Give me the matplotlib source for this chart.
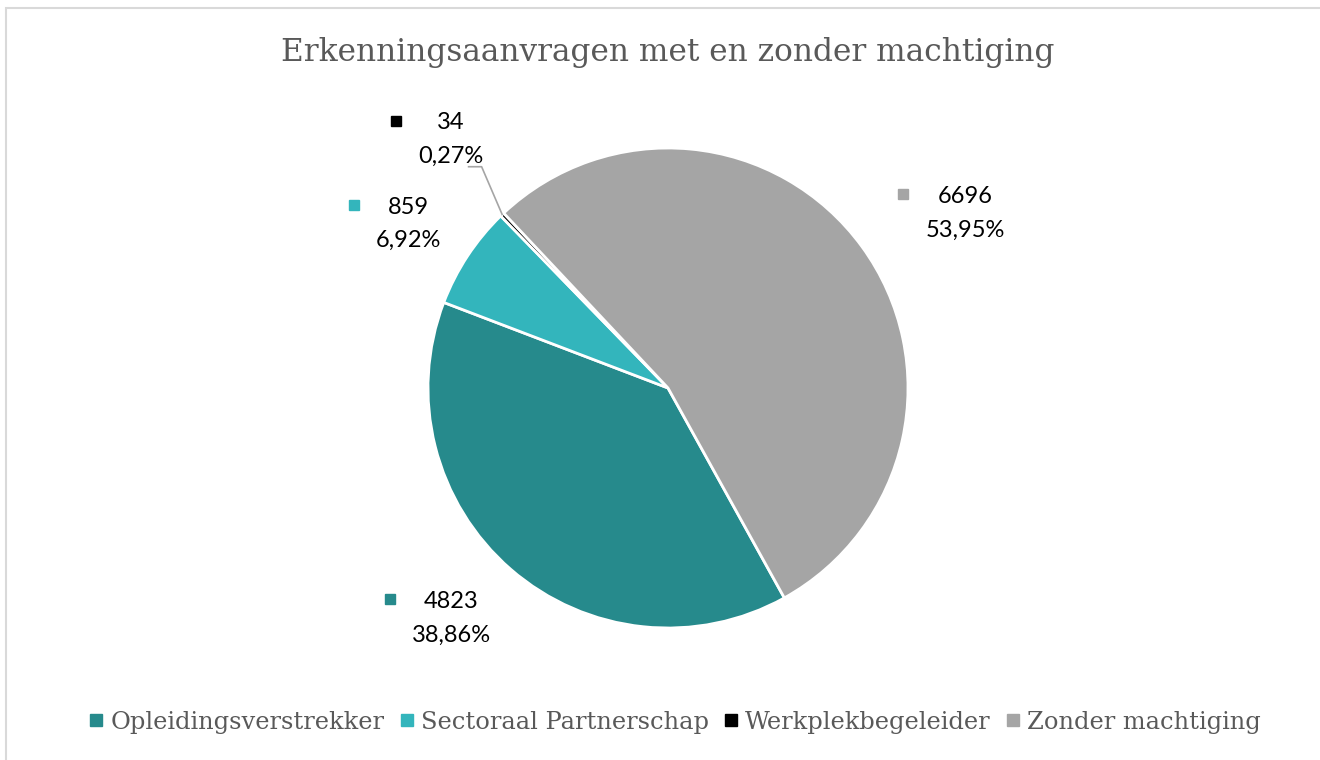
import numpy as np
import matplotlib.pyplot as plt
from matplotlib.patches import Rectangle
from matplotlib.lines import Line2D

# data
categorieen = ['Opleidingsverstrekker', 'Sectoraal Partnerschap', 'Werkplekbegeleider', 'Zonder machtiging']
aantallen = [4823, 859, 34, 6696]
procenten = ['38,86%', '6,92%', '0,27%', '53,95%']
kleuren = ['#268A8C', '#33B5BC', '#000000', '#A5A5A5']

# plaats van de labels: afstand (in straal) en hoekcorrectie (graden) t.o.v. het midden van het stuk
label_afstand = [1.317, 1.278, 1.375, 1.436]
label_hoek_corr = [-2.3, 1.0, -2.5, -5.6]

W, H = 1320, 760
fig = plt.figure(figsize=(W / 100, H / 100), dpi=100)

# grijze rand van de grafiek
fig.add_artist(Rectangle((6 / W, -0.1), 1.2, 1 - 8 / H + 0.1, transform=fig.transFigure,
                         fill=False, edgecolor='#D9D9D9', linewidth=1.5))

# pie: midden (668, 388), straal 240 px
R = 240
S = 700
ax = fig.add_axes([(668 - S / 2) / W, (H - 388 - S / 2) / H, S / W, S / H])

wedges, _ = ax.pie(aantallen, colors=kleuren, startangle=-61, counterclock=False,
                   radius=1, wedgeprops=dict(edgecolor='white', linewidth=2))

lim = S / 2 / R
ax.set_xlim(-lim, lim)
ax.set_ylim(-lim, lim)
ax.set_aspect('equal')
ax.axis('off')

renderer = fig.canvas.get_renderer()
px = 1 / R  # een pixel in data eenheden

for i, w in enumerate(wedges):
    hoek = np.deg2rad((w.theta1 + w.theta2) / 2 + label_hoek_corr[i])
    d = label_afstand[i]
    x, y = d * np.cos(hoek), d * np.sin(hoek)
    t = ax.text(x, y, f'{aantallen[i]}\n{procenten[i]}', ha='center', va='center',
                fontsize=17, family='Lato', color='black', linespacing=1.75)
    breedte = t.get_window_extent(renderer).width * px
    # gekleurd vierkantje links van het label, op de eerste regel
    ax.plot(x - breedte / 2 - 22 * px, y + 19 * px, marker='s', markersize=7.5,
            color=kleuren[i], linestyle='none', clip_on=False)
    if aantallen[i] < 100:
        # verbindingslijn naar het kleine stuk
        x0, y0 = np.cos(hoek - np.deg2rad(label_hoek_corr[i])), np.sin(hoek - np.deg2rad(label_hoek_corr[i]))
        ax.plot([x + 18 * px, x + 31 * px, x0], [y - 27 * px, y - 27 * px, y0], color='#A5A5A5',
                linewidth=1.2, clip_on=False)

fig.text(668 / W, 1 - 53 / H, 'Erkenningsaanvragen met en zonder machtiging', ha='center', va='center',
         fontsize=22.5, family='DejaVu Serif', color='#595959')

handles = [Line2D([], [], marker='s', linestyle='none', markersize=8, color=k) for k in kleuren]
fig.legend(handles, categorieen, loc='center', bbox_to_anchor=(675 / W, 1 - 722 / H), ncol=4, frameon=False,
           handlelength=0.6, handletextpad=0.3, columnspacing=0.6,
           prop=dict(family='DejaVu Serif', size=17.4), labelcolor='#595959')

fig.savefig('out.png', dpi=100)
